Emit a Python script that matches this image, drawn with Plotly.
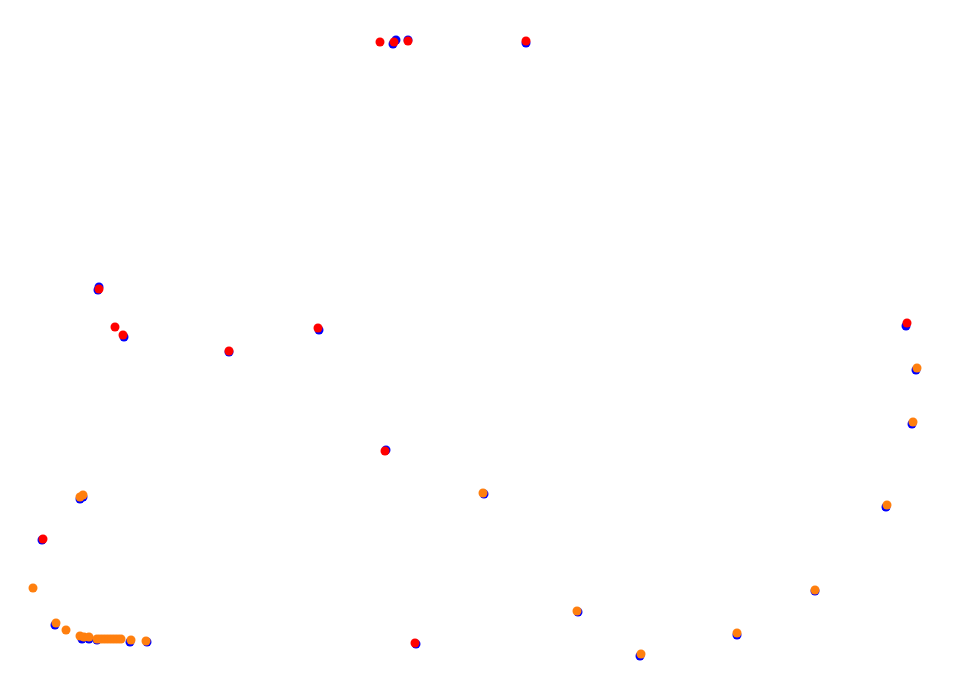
import plotly.graph_objects as go

# Blue series (underneath)
blue_x = [396, 393, 408, 526, 99, 98, 124, 229, 319, 386, 416, 42, 906,
          484, 916, 912, 886, 815, 737, 640, 578, 80, 83, 55, 82, 89, 97, 130, 147]
blue_y = [40, 44, 40, 43, 287, 290, 337, 352, 330, 450, 644, 540, 326,
          494, 370, 424, 507, 591, 635, 656, 612, 499, 497, 625, 639, 639, 640, 642, 642]

# Red series
red_x = [380, 394, 408, 526, 99, 115, 123, 229, 318, 385, 415, 43, 907]
red_y = [42, 42, 41, 41, 289, 327, 335, 351, 328, 451, 643, 539, 323]

# Orange series
orange_x = [483, 917, 913, 887, 815, 737, 641, 577, 80, 83, 33, 56, 66,
            80, 84, 89, 97, 100, 103, 106, 109, 112, 115, 118, 121, 131, 146]
orange_y = [493, 368, 422, 505, 590, 633, 654, 611, 497, 495, 588, 623, 630,
            636, 637, 637, 639, 639, 639, 639, 639, 639, 639, 639, 639, 640, 641]

fig = go.Figure()
fig.add_trace(go.Scatter(x=blue_x, y=blue_y, mode="markers",
                         marker=dict(color="#0000ff", size=9), showlegend=False))
fig.add_trace(go.Scatter(x=red_x, y=red_y, mode="markers",
                         marker=dict(color="#ff0000", size=9), showlegend=False))
fig.add_trace(go.Scatter(x=orange_x, y=orange_y, mode="markers",
                         marker=dict(color="#ff7f0e", size=9), showlegend=False))

fig.update_layout(
    width=946, height=668,
    margin=dict(l=0, r=0, t=0, b=0),
    paper_bgcolor="white", plot_bgcolor="white",
    xaxis=dict(range=[8, 954], visible=False),
    yaxis=dict(range=[676, 8], visible=False),
)
fig.write_html("out.html")
